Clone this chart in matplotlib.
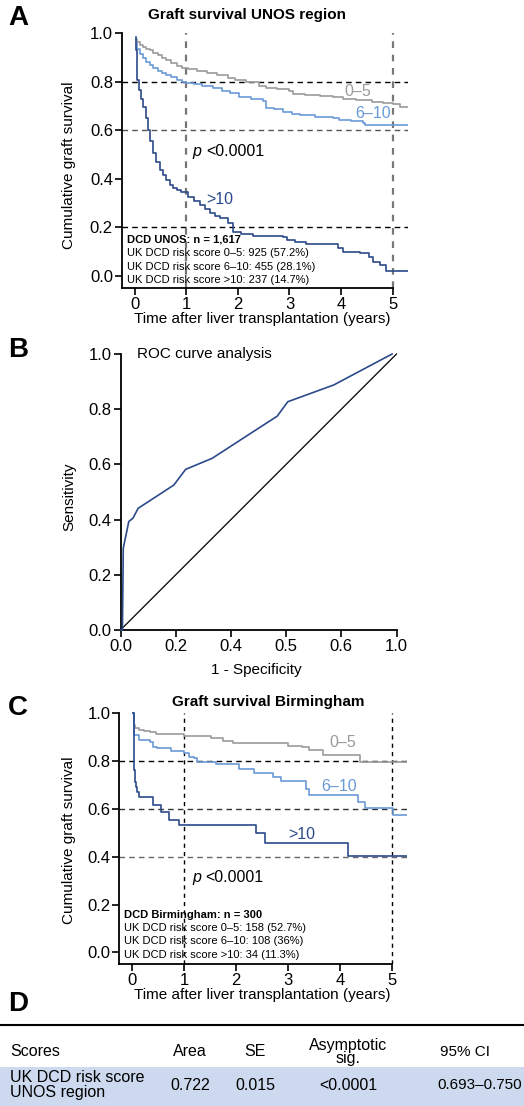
#!/usr/bin/env python3
"""
Graft survival (UNOS / Birmingham), ROC curve and AUC table
"""

import matplotlib
matplotlib.use('Agg')
import matplotlib.pyplot as plt
from matplotlib.patches import Rectangle

plt.rcParams['font.family'] = ['Liberation Sans', 'DejaVu Sans']

GRAY = '#9b9b9b'
LBLUE = '#6a9ad6'
DBLUE = '#2b4a8b'

# --- A: UNOS region, Kaplan-Meier curves
unos_t_05 = [0.02, 0.05, 0.10, 0.16, 0.22, 0.29, 0.36, 0.44, 0.52, 0.61, 0.70, 0.81,
             0.92, 1.03, 1.20, 1.40, 1.60, 1.80, 1.95, 2.15, 2.40, 2.55, 2.75, 3.00,
             3.06, 3.30, 3.60, 3.84, 4.04, 4.30, 4.60, 4.81, 5.00, 5.14, 5.30]
unos_s_05 = [0.975, 0.962, 0.952, 0.942, 0.935, 0.928, 0.918, 0.908, 0.898, 0.889,
             0.877, 0.863, 0.855, 0.850, 0.843, 0.835, 0.826, 0.815, 0.807, 0.797,
             0.782, 0.775, 0.768, 0.760, 0.750, 0.745, 0.740, 0.736, 0.728, 0.722,
             0.715, 0.710, 0.706, 0.697, 0.697]

unos_t_610 = [0.02, 0.05, 0.10, 0.16, 0.22, 0.29, 0.36, 0.44, 0.52, 0.61, 0.70, 0.81,
              0.92, 1.00, 1.15, 1.30, 1.52, 1.70, 1.85, 2.03, 2.25, 2.49, 2.55, 2.70,
              2.87, 3.05, 3.20, 3.50, 3.84, 3.97, 4.20, 4.42, 4.46, 5.30]
unos_s_610 = [0.960, 0.935, 0.915, 0.896, 0.880, 0.868, 0.855, 0.845, 0.836, 0.827,
              0.818, 0.807, 0.800, 0.796, 0.790, 0.782, 0.772, 0.762, 0.752, 0.738,
              0.730, 0.720, 0.692, 0.685, 0.674, 0.668, 0.661, 0.655, 0.648, 0.642,
              0.637, 0.631, 0.620, 0.620]

unos_t_10 = [0.02, 0.03, 0.04, 0.05, 0.08, 0.12, 0.16, 0.21, 0.26, 0.30, 0.35, 0.41,
             0.48, 0.54, 0.61, 0.68, 0.74, 0.82, 0.90, 1.03, 1.15, 1.26, 1.36, 1.45,
             1.55, 1.65, 1.81, 1.90, 2.05, 2.29, 2.50, 2.87, 2.95, 3.10, 3.33, 3.94,
             4.04, 4.36, 4.55, 4.62, 4.75, 4.88, 5.30]
unos_s_10 = [0.985, 0.930, 0.870, 0.807, 0.765, 0.730, 0.697, 0.650, 0.600, 0.555,
             0.505, 0.470, 0.436, 0.415, 0.395, 0.375, 0.361, 0.352, 0.347, 0.326,
             0.310, 0.292, 0.275, 0.258, 0.246, 0.237, 0.217, 0.182, 0.172, 0.165,
             0.163, 0.159, 0.148, 0.141, 0.132, 0.114, 0.100, 0.093, 0.077, 0.059,
             0.045, 0.022, 0.022]

unos_lines = ['DCD UNOS: n = 1,617',
              'UK DCD risk score 0\u20135: 925 (57.2%)',
              'UK DCD risk score 6\u201310: 455 (28.1%)',
              'UK DCD risk score >10: 237 (14.7%)']

# --- B: ROC curve
roc_fpr = [0.0, 0.007, 0.010, 0.030, 0.045, 0.064, 0.193, 0.236, 0.332, 0.568,
           0.606, 0.773, 0.984]
roc_tpr = [0.0, 0.0, 0.296, 0.393, 0.405, 0.441, 0.525, 0.582, 0.622, 0.775,
           0.827, 0.888, 1.0]
roc_ticks = [0.0, 0.2, 0.4, 0.6, 0.8, 1.0]
roc_tick_labels = ['0.0', '0.2', '0.4', '0.5', '0.6', '1.0']

# --- C: Birmingham
bham_t_05 = [0.02, 0.03, 0.06, 0.13, 0.22, 0.35, 0.45, 1.00, 1.51, 1.74, 1.93, 3.00,
             3.26, 3.40, 3.67, 4.38, 5.30]
bham_s_05 = [1.0, 0.950, 0.940, 0.932, 0.926, 0.920, 0.912, 0.906, 0.895, 0.884,
             0.874, 0.864, 0.857, 0.847, 0.825, 0.797, 0.797]

bham_t_610 = [0.02, 0.03, 0.13, 0.35, 0.39, 0.48, 0.74, 1.00, 1.09, 1.19, 1.25, 1.61,
              2.05, 2.35, 2.71, 2.87, 3.35, 3.40, 4.35, 4.48, 5.03, 5.30]
bham_s_610 = [1.0, 0.910, 0.888, 0.881, 0.860, 0.853, 0.842, 0.832, 0.818, 0.811,
              0.797, 0.786, 0.769, 0.751, 0.734, 0.716, 0.685, 0.657, 0.629, 0.604,
              0.573, 0.573]

bham_t_10 = [0.02, 0.03, 0.05, 0.07, 0.10, 0.13, 0.39, 0.55, 0.71, 0.90, 2.38, 2.55,
             4.15, 5.30]
bham_s_10 = [1.0, 0.762, 0.713, 0.690, 0.671, 0.650, 0.615, 0.585, 0.555, 0.531,
             0.499, 0.457, 0.403, 0.403]

bham_lines = ['DCD Birmingham: n = 300',
              'UK DCD risk score 0\u20135: 158 (52.7%)',
              'UK DCD risk score 6\u201310: 108 (36%)',
              'UK DCD risk score >10: 34 (11.3%)']

# --- D: table
table_header = ['Scores', 'Area', 'SE', 'Asymptotic\nsig.', '95% CI']
table_row = ['UK DCD risk score\nUNOS region', '0.722', '0.015', '<0.0001', '0.693\u20130.750']

W, H = 524, 1106
fig = plt.figure(figsize=(W / 100, H / 100), dpi=100)


def px_axes(left, top, right, bottom):
    return fig.add_axes([left / W, 1 - bottom / H, (right - left) / W, (bottom - top) / H])


def style(ax):
    for side in ['top', 'right']:
        ax.spines[side].set_visible(False)
    for side in ['left', 'bottom']:
        ax.spines[side].set_linewidth(1.3)
    ax.tick_params(direction='out', length=5, width=1.2, labelsize=12, pad=1.5)


def km_panel(ax, curves, hlines, vcolor, vlw, labels, inset, inset_x, inset_y0, p_xy):
    ax.set_xlim(-0.25, 5.3)
    ax.set_ylim(-0.05, 1.02)
    style(ax)
    ax.spines['left'].set_bounds(-0.05, 1.0)
    ax.spines['bottom'].set_bounds(-0.25, 5)
    ax.set_xticks(range(6))
    ax.set_yticks([0, 0.2, 0.4, 0.6, 0.8, 1.0])
    ax.set_yticklabels(['0.0', '0.2', '0.4', '0.6', '0.8', '1.0'])
    for y, c in hlines:
        ax.axhline(y, color=c, lw=1.0, dashes=(4, 3), zorder=1)
    ax.vlines([1, 5], -0.05, 1.0, colors=vcolor, lw=vlw, linestyles=(0, (3, 3)), zorder=1)
    for t, s, c in curves:
        ax.step(t, s, where='post', color=c, lw=1.2, zorder=3)
    for txt, x, y, c in labels:
        ax.text(x, y, txt, color=c, fontsize=11.5, ha='center', va='center')
    for i, line in enumerate(inset):
        ax.text(inset_x, inset_y0 - i * 0.0555, line, fontsize=8, va='center',
                fontweight='bold' if i == 0 else 'normal', zorder=4)
    ax.text(p_xy[0], p_xy[1], 'p', fontsize=11.5, va='center', style='italic')
    ax.text(p_xy[0] + 0.26, p_xy[1], '<0.0001', fontsize=11.5, va='center')
    ax.set_ylabel('Cumulative graft survival', fontsize=11)
    ax.set_xlabel('Time after liver transplantation (years)', fontsize=11)
    ax.xaxis.label.set_va('center')
    ax.yaxis.label.set_va('center')


# A
axA = px_axes(122, 28.1, 408, 288)
km_panel(axA,
         [(unos_t_05, unos_s_05, GRAY), (unos_t_610, unos_s_610, LBLUE),
          (unos_t_10, unos_s_10, DBLUE)],
         [(0.8, 'black'), (0.6, '#555555'), (0.2, 'black')], '#777777', 1.6,
         [('0\u20135', 4.32, 0.758, GRAY), ('6\u201310', 4.62, 0.67, LBLUE),
          ('>10', 1.65, 0.313, DBLUE)],
         unos_lines, -0.16, 0.148, (1.12, 0.51))
axA.yaxis.set_label_coords(-0.185, 0.473)
axA.xaxis.set_label_coords(0.49, -0.119)

# B
axB = px_axes(120.5, 354, 396.5, 630)
axB.set_xlim(0, 1)
axB.set_ylim(0, 1)
style(axB)
axB.plot([0, 1], [0, 1], color='black', lw=0.9, clip_on=False)
axB.plot(roc_fpr, roc_tpr, color=DBLUE, lw=1.2, clip_on=False, zorder=3)
axB.set_xticks(roc_ticks)
axB.set_xticklabels(roc_tick_labels)
axB.set_yticks([0, 0.2, 0.4, 0.6, 0.8, 1.0])
axB.set_yticklabels(['0.0', '0.2', '0.4', '0.6', '0.8', '1.0'])
axB.text(0.06, 1.0, 'ROC curve analysis', fontsize=11, va='center')
axB.set_ylabel('Sensitivity', fontsize=11)
axB.set_xlabel('1 - Specificity', fontsize=11)
axB.xaxis.label.set_va('center')
axB.yaxis.label.set_va('center')
axB.yaxis.set_label_coords(-0.187, 0.483)
axB.xaxis.set_label_coords(0.493, -0.145)

# C
axC = px_axes(119.3, 708.5, 407.5, 964.3)
km_panel(axC,
         [(bham_t_05, bham_s_05, GRAY), (bham_t_610, bham_s_610, LBLUE),
          (bham_t_10, bham_s_10, DBLUE)],
         [(0.8, 'black'), (0.6, '#333333'), (0.4, '#666666')], 'black', 1.0,
         [('0\u20135', 4.06, 0.877, GRAY), ('6\u201310', 3.98, 0.692, LBLUE),
          ('>10', 3.26, 0.494, DBLUE)],
         bham_lines, -0.167, 0.157, (1.15, 0.315))
axC.yaxis.set_label_coords(-0.175, 0.483)
axC.xaxis.set_label_coords(0.495, -0.12)

# titles and panel letters
fig.text(247 / W, 1 - 15 / H, 'Graft survival UNOS region', fontsize=11,
         fontweight='bold', ha='center', va='center')
fig.text(268 / W, 1 - 702 / H, 'Graft survival Birmingham', fontsize=11,
         fontweight='bold', ha='center', va='center')
for letter, y in [('A', 18), ('B', 350), ('C', 708), ('D', 1004)]:
    fig.text(8 / W, 1 - y / H, letter, fontsize=20, fontweight='bold', va='center')

# D: table
fig.add_artist(plt.Line2D([0, 1], [1 - 1025 / H, 1 - 1025 / H], color='black', lw=1.5))
fig.add_artist(Rectangle((0, 0), 1, 39 / H, facecolor='#cdd9ee', edgecolor='none'))
col_x = [10, 190, 255, 348, 465]
row_x = [10, 190, 255, 348, 480]
col_size = [11.5, 11.5, 11.5, 11.5, 11]
for i, (h, v) in enumerate(zip(table_header, table_row)):
    ha = 'left' if i == 0 else 'center'
    fig.text(col_x[i] / W, 1 - 1052 / H, h, fontsize=col_size[i], ha=ha, va='center',
             linespacing=0.9)
    fig.text(row_x[i] / W, 1 - 1085 / H, v, fontsize=col_size[i], ha=ha, va='center',
             linespacing=0.95)

fig.savefig('out.png', dpi=100)
